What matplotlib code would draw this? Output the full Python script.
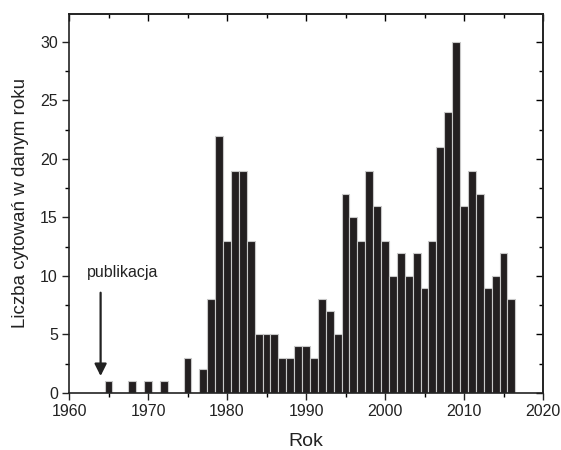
import numpy as np
import matplotlib
matplotlib.use('Agg')
import matplotlib.pyplot as plt
from matplotlib.ticker import MultipleLocator

plt.rcParams['font.family'] = ['Liberation Sans', 'DejaVu Sans']

# dane
lata = [1965, 1968, 1970, 1972, 1975, 1977, 1978, 1979, 1980, 1981, 1982, 1983,
        1984, 1985, 1986, 1987, 1988, 1989, 1990, 1991, 1992, 1993, 1994, 1995,
        1996, 1997, 1998, 1999, 2000, 2001, 2002, 2003, 2004, 2005, 2006, 2007,
        2008, 2009, 2010, 2011, 2012, 2013, 2014, 2015, 2016]
cytowania = [1, 1, 1, 1, 3, 2, 8, 22, 13, 19, 19, 13,
             5, 5, 5, 3, 3, 4, 4, 3, 8, 7, 5, 17,
             15, 13, 19, 16, 13, 10, 12, 10, 12, 9, 13, 21,
             24, 30, 16, 19, 17, 9, 10, 12, 8]
rok_publikacji = 1964

fig = plt.figure(figsize=(5.61, 4.5), dpi=100)
ax = fig.add_axes([0.123, 0.127, 0.845, 0.842])

ax.bar(lata, cytowania, width=1.0, color='#231f20', edgecolor='#c8c8c8', linewidth=0.8)

ax.set_xlim(1960, 2020)
ax.set_ylim(0, 32.4)
ax.xaxis.set_major_locator(MultipleLocator(10))
ax.xaxis.set_minor_locator(MultipleLocator(5))
ax.yaxis.set_major_locator(MultipleLocator(5))
ax.yaxis.set_minor_locator(MultipleLocator(2.5))
ax.tick_params(axis='both', which='major', direction='out', length=5, width=1,
               labelsize=11.5, colors='#222222', pad=3)
ax.tick_params(axis='both', which='minor', direction='out', length=3, width=1)

# ticki na gorze i po prawej (do srodka)
top = ax.secondary_xaxis('top')
top.xaxis.set_major_locator(MultipleLocator(10))
top.xaxis.set_minor_locator(MultipleLocator(5))
top.tick_params(which='both', direction='in', labeltop=False)
top.tick_params(which='major', length=5, width=1)
top.tick_params(which='minor', length=3, width=1)
right = ax.secondary_yaxis('right')
right.yaxis.set_major_locator(MultipleLocator(5))
right.yaxis.set_minor_locator(MultipleLocator(2.5))
right.tick_params(which='both', direction='in', labelright=False)
right.tick_params(which='major', length=5, width=1)
right.tick_params(which='minor', length=3, width=1)

for s in list(ax.spines.values()) + [top.spines['top'], right.spines['right']]:
    s.set_linewidth(1.2)
    s.set_color('#222222')

ax.set_xlabel('Rok', fontsize=14, color='#222222', labelpad=10)
ax.set_ylabel('Liczba cytowań w danym roku', fontsize=13.5, color='#222222', labelpad=8)

ax.annotate('', xy=(rok_publikacji, 1.2), xytext=(rok_publikacji, 8.8),
            arrowprops=dict(arrowstyle='-|>', color='#222222', lw=1.6, mutation_scale=18))
ax.text(rok_publikacji + 2.8, 10.3, 'publikacja', ha='center', va='center',
        fontsize=11.5, color='#222222')

fig.savefig('out.png', dpi=100)
